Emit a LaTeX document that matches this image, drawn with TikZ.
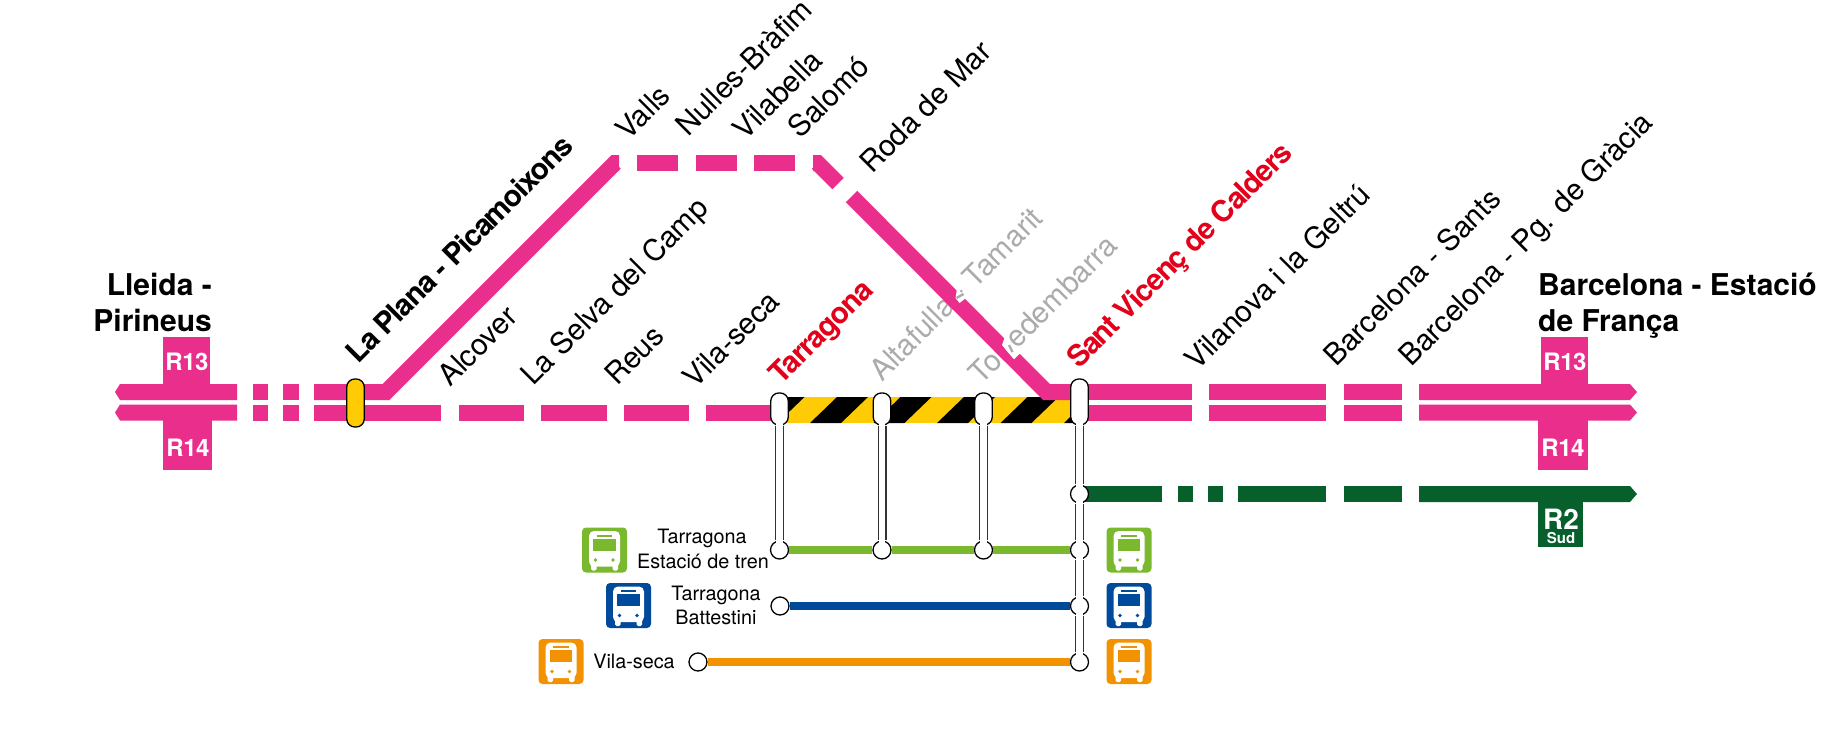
\documentclass[tikz,border=0pt]{standalone}
\usepackage{fontspec}
\setmainfont{TeX Gyre Heros}
\definecolor{rpink}{HTML}{E92E8C}
\definecolor{rdgreen}{HTML}{07602C}
\definecolor{rlgreen}{HTML}{7AB92D}
\definecolor{rblue}{HTML}{004A9C}
\definecolor{rorange}{HTML}{F39200}
\definecolor{ryellow}{HTML}{FFCB05}
\definecolor{rred}{HTML}{E2001A}
\definecolor{rgrey}{HTML}{ABABAB}
\definecolor{rline}{HTML}{333333}
\tikzset{
  track/.style={line width=16pt,rpink},
  gtrack/.style={line width=16pt,rdgreen},
  busline/.style={line width=8pt},
  lab/.style={rotate=45,anchor=base west,inner sep=0pt,font=\fontsize{29.7}{29.7}\selectfont},
  blab/.style={lab,font=\bfseries\fontsize{29.5}{29.5}\selectfont\addfontfeature{LetterSpace=-4.2}},
  head/.style={anchor=base west,inner sep=0pt,font=\bfseries\fontsize{30}{30}\selectfont},
  stoptxt/.style={anchor=base,inner sep=0pt,font=\fontsize{19.8}{19.8}\selectfont},
  code/.style={anchor=base,inner sep=0pt,text=white,font=\bfseries\fontsize{24}{24}\selectfont\addfontfeature{LetterSpace=-2}},
  pill/.style={draw=black,line width=1.3pt,fill=white,rectangle,rounded corners=8pt,inner sep=0pt,minimum width=17.5pt},
  stop/.style={draw=black,line width=1.3pt,fill=white,circle,inner sep=0pt,minimum size=18pt},
  linkdark/.style={line width=9pt,rline},
  linkwhite/.style={line width=6.4pt,white,shorten <=-2.5pt,shorten >=-2.5pt},
  nick/.style={fill=white},
  nickmark/.style={rgrey,line width=2.4pt},
}
\newcommand{\busicon}[3]{%
  \begin{scope}[shift={(#1,#2)}]
    \fill[#3,rounded corners=4pt] (0,0) rectangle (45,45);
    \fill[white,rounded corners=1.5pt] (9,34) rectangle (14.5,43);
    \fill[white,rounded corners=1.5pt] (30.5,34) rectangle (36,43);
    \fill[white,rounded corners=5pt] (7,3.5) rectangle (38,39);
    \fill[#3] (11,11) rectangle (33.5,23);
    \fill[#3] (14.5,7) rectangle (30,9);
    \fill[#3] (13.5,32.5) circle[radius=1.9pt];
    \fill[#3] (31,32.5) circle[radius=1.9pt];
  \end{scope}}
\newcommand{\vlink}[2]{%
  \draw[linkdark] (#1.south) -- (#2.north);
  \draw[linkwhite] (#1.south) -- (#2.north);}
\begin{document}
\begin{tikzpicture}[x=1pt,y=-1pt]
\useasboundingbox (0,0) rectangle (1833,741);
\fill[white] (0,0) rectangle (1833,741);
% labels
\node[lab] (lAlc) at (450,388) {Alcover};
\node[lab] (lSel) at (533,387) {La Selva del Camp};
\node[lab] (lReu) at (617,387) {Reus};
\node[lab] (lVil) at (695,390) {Vila-seca};
\node[lab,text=rgrey] (lAlt) at (882,383) {Altafulla - Tamarit};
\node[lab,text=rgrey] (lTor) at (981,386) {Torredembarra};
\node[lab] (lVgl) at (1197,372) {Vilanova i la Geltrú};
\node[lab] (lSan) at (1336,368) {Barcelona - Sants};
\node[lab] (lGra) at (1411,368) {Barcelona - Pg. de Gràcia};
\node[lab] (lVal) at (628,142) {Valls};
\node[lab] (lNul) at (688,138) {Nulles-Bràfim};
\node[lab] (lVib) at (745,142) {Vilabella};
\node[lab] (lSal) at (800,140) {Salomó};
\node[lab] (lRod) at (872,175) {Roda de Mar};
\node[blab] (lPla) at (358,365) {La Plana - Picamoixons};
\node[blab,text=rred] (lTar) at (781,386) {Tarragona};
\node[blab,text=rred] (lVic) at (1079,370) {Sant Vicenç de Calders};
\node[head,anchor=base east] (hL1) at (212,295) {Lleida -};
\node[head,anchor=base east] (hL2) at (212,331) {Pirineus};
\node[head] (hB1) at (1538,295) {Barcelona - Estació};
\node[head] (hB2) at (1538,331) {de França};
% line code boxes
\fill[rpink] (163,337) rectangle (210,385);
\fill[rpink] (163,420) rectangle (212,470);
\fill[rpink] (1541,337) rectangle (1588,385);
\fill[rpink] (1538,420) rectangle (1588,470);
\fill[rdgreen] (1538,501) rectangle (1583,547);
\node[code] (c1) at (187,370) {R13};
\node[code] (c2) at (188,456) {R14};
\node[code] (c3) at (1565,370) {R13};
\node[code] (c4) at (1563,456) {R14};
\node[code,font=\bfseries\fontsize{28}{28}\selectfont] (c5) at (1561,529) {R2};
\node[code,font=\bfseries\fontsize{15}{15}\selectfont] (c6) at (1561,543) {Sud};
% hazard band
\begin{scope}
  \clip (786,397) rectangle (1074,423);
  \fill[ryellow] (786,397) rectangle (1074,423);
  \foreach \b in {746.5,810,873.5,937,1000.5,1064}
    \fill[black] (\b,423) -- (\b+27,397) -- (\b+58,397) -- (\b+31,423) -- cycle;
\end{scope}
% pink tracks, left
\fill[rpink] (237,384) -- (120,384) -- (115,392) -- (120,400) -- (237,400) -- cycle;
\fill[rpink] (237,404.5) -- (120,404.5) -- (115,412.5) -- (120,420.5) -- (237,420.5) -- cycle;
\foreach \a/\b in {253/268,283/299}{
  \draw[track] (\a,392) -- (\b,392);
  \draw[track] (\a,412.5) -- (\b,412.5);}
\draw[track] (314,392) -- (386,392) -- (615,163) -- (619,163);
\foreach \a/\b in {314/441,459/524,541/607,624/689,706/775}
  \draw[track] (\a,412.5) -- (\b,412.5);
\foreach \a/\b in {637/678,696/737,754/795}
  \draw[track] (\a,163) -- (\b,163);
\draw[track] (813,163) -- (817.5,163) -- (838,183.5);
\draw[track] (851.5,196.5) -- (1046.5,392) -- (1075,392);
% white notches where the grey names cross the line
\fill[nick] (957,288.5) -- (966,298) -- (959.5,303) -- (955.5,298) -- cycle;
\draw[nickmark] (956.5,298) -- (963.5,294);
\fill[nick] (1005,336.7) -- (1021.7,351.7) -- (1014,359.3) -- (1006,350) -- (1002,345) -- cycle;
\draw[nickmark] (1009,345) -- (1012.5,352);
% pink tracks, right
\foreach \a/\b in {1080/1192,1209/1326,1344/1402}{
  \draw[track] (\a,392) -- (\b,392);
  \draw[track] (\a,412.5) -- (\b,412.5);}
\fill[rpink] (1419,384) -- (1630,384) -- (1637,392) -- (1630,400) -- (1419,400) -- cycle;
\fill[rpink] (1419,404.5) -- (1630,404.5) -- (1637,412.5) -- (1630,420.5) -- (1419,420.5) -- cycle;
% green track
\foreach \a/\b in {1080/1162,1178/1193,1208/1223,1238/1326,1344/1402}
  \draw[gtrack] (\a,494) -- (\b,494);
\fill[rdgreen] (1419,486) -- (1630,486) -- (1637,494) -- (1630,502) -- (1419,502) -- cycle;
% stations
\node[pill,fill=ryellow,minimum height=48pt] (sPla) at (355.5,403) {};
\node[pill,minimum height=32pt] (sTar) at (779.5,409) {};
\node[pill,minimum height=32pt] (sAlt) at (882,409) {};
\node[pill,minimum height=32pt] (sTor) at (983.5,409) {};
\node[pill,minimum height=46pt] (sVic) at (1079.5,402) {};
\node[stop] (gV) at (1079.5,494) {};
\node[stop] (t1) at (779.5,550) {};
\node[stop] (t2) at (882,550) {};
\node[stop] (t3) at (983.5,550) {};
\node[stop] (t4) at (1079.5,550) {};
\node[stop] (b1) at (780,606) {};
\node[stop] (b2) at (1079.5,606) {};
\node[stop] (o1) at (698,662) {};
\node[stop] (o2) at (1079.5,662) {};
\draw[busline,rlgreen] (t1.east) -- (t2.west);
\draw[busline,rlgreen] (t2.east) -- (t3.west);
\draw[busline,rlgreen] (t3.east) -- (t4.west);
\draw[busline,rblue] (b1.east) -- (b2.west);
\draw[busline,rorange] (o1.east) -- (o2.west);
\vlink{sTar}{t1}
\vlink{sAlt}{t2}
\vlink{sTor}{t3}
\vlink{sVic}{gV}
\vlink{gV}{t4}
\vlink{t4}{b2}
\vlink{b2}{o2}
% stop names
\node[stoptxt] (n1) at (702,543) {Tarragona};
\node[stoptxt] (n2) at (703,568) {Estació de tren};
\node[stoptxt] (n3) at (716,600) {Tarragona};
\node[stoptxt] (n4) at (716,624) {Battestini};
\node[stoptxt] (n5) at (634,668) {Vila-seca};
% bus icons
\busicon{582}{527.5}{rlgreen}
\busicon{606}{583}{rblue}
\busicon{538.5}{639}{rorange}
\busicon{1106.5}{527.5}{rlgreen}
\busicon{1106.5}{583}{rblue}
\busicon{1106.5}{639}{rorange}
\end{tikzpicture}
\end{document}
